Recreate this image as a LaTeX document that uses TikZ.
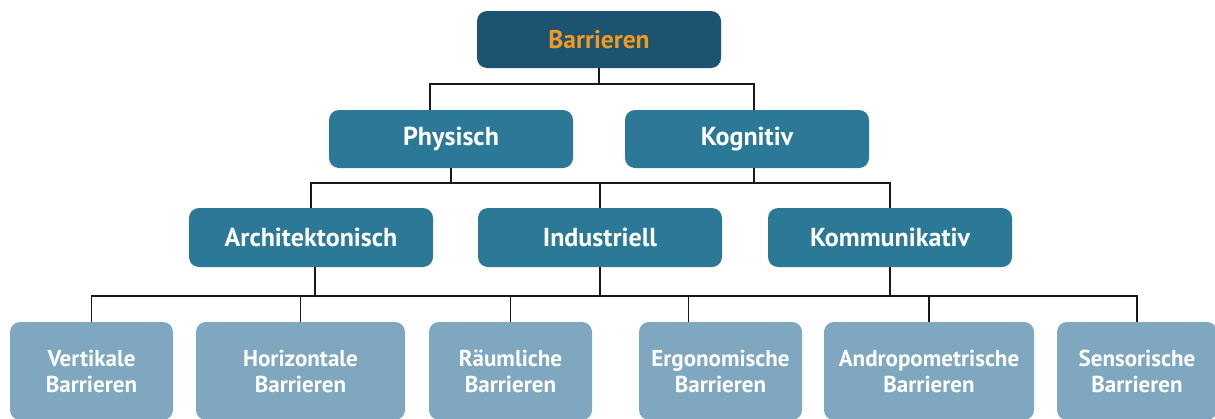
\documentclass[tikz,border=0pt]{standalone}
\usepackage{fontspec}
\setmainfont{PT Sans}
\usepackage{xcolor}
\usepackage{tikz}
\usetikzlibrary{
  positioning,
  calc
}
\definecolor{brTop}{HTML}{1C5371}
\definecolor{brMid}{HTML}{2B7996}
\definecolor{brLow}{HTML}{7FA7C0}
\definecolor{brOrange}{HTML}{F39A1E}
\tikzset{
  brnode/.style={
    rounded corners=10pt, align=center, inner sep=0pt,
    font=\fontsize{26}{30}\selectfont\bfseries, text=white
  },
  rootbox/.style={brnode, fill=brTop, minimum width=244pt, minimum height=57pt, text=brOrange,
    font=\fontsize{25.5}{30}\selectfont\bfseries},
  groupbox/.style={brnode, fill=brMid, minimum width=244pt, minimum height=58pt},
  leafbox/.style={brnode, fill=brLow, minimum height=98pt,
    font=\fontsize{23}{26}\selectfont\bfseries},
  link/.style={line width=1.1pt, black!90}
}

\begin{document}
\begin{tikzpicture}[x=1pt, y=1pt]
  \useasboundingbox (0,0) rectangle (1215,-418);

  % root and first level
  \node[rootbox] (root) at (599,-39.5) {Barrieren};
  \node[groupbox] (phys) at (451,-139) {Physisch};
  \node[groupbox] (kogn) at (747,-139) {Kognitiv};

  % second level
  \node[groupbox, minimum height=59pt] (arch) at (311,-237.5) {Architektonisch};
  \node[groupbox, minimum height=59pt] (ind) at (600,-237.5) {Industriell};
  \node[groupbox, minimum height=59pt] (komm) at (890,-237.5) {Kommunikativ};

  % leaves
  \node[leafbox, minimum width=163pt] (vert) at (91.5,-371) {Vertikale\\Barrieren};
  \node[leafbox, minimum width=209pt] (horiz) at (300.5,-371) {Horizontale\\Barrieren};
  \node[leafbox, minimum width=163pt] (raeum) at (510.5,-371) {Räumliche\\Barrieren};
  \node[leafbox, minimum width=163pt] (ergo) at (720.5,-371) {Ergonomische\\Barrieren};
  \node[leafbox, minimum width=210pt] (andro) at (929,-371) {Andropometrische\\Barrieren};
  \node[leafbox, minimum width=160pt] (sens) at (1137,-371) {Sensorische\\Barrieren};

  % connectors
  \coordinate (busA) at (599,-84);
  \coordinate (busB) at (600,-183);
  \coordinate (busC) at (600,-296);

  \draw[link] (root.south) -- (busA);
  \draw[link] ([xshift=-21pt]phys.north) |- (busA) -| ([xshift=7pt]kogn.north);

  \draw[link] (phys.south) -- (phys.south |- busB);
  \draw[link] ([xshift=7pt]kogn.south) -- ([xshift=7pt]kogn.south |- busB);
  \draw[link] (arch.north) |- (busB) -| (komm.north);
  \draw[link] (ind.north) -- (ind.north |- busB);

  \draw[link] ([xshift=4pt]arch.south) -- ([xshift=4pt]arch.south |- busC);
  \draw[link] (ind.south) -- (busC);
  \draw[link] (komm.south) -- (komm.south |- busC);
  \draw[link] (vert.north) |- (busC) -| (sens.north);
  \draw[link] (horiz.north) -- (horiz.north |- busC);
  \draw[link] (raeum.north) -- (raeum.north |- busC);
  \draw[link] ([xshift=-32pt]ergo.north) -- ([xshift=-32pt]ergo.north |- busC);
  \draw[link] (andro.north) -- (andro.north |- busC);
\end{tikzpicture}
\end{document}
